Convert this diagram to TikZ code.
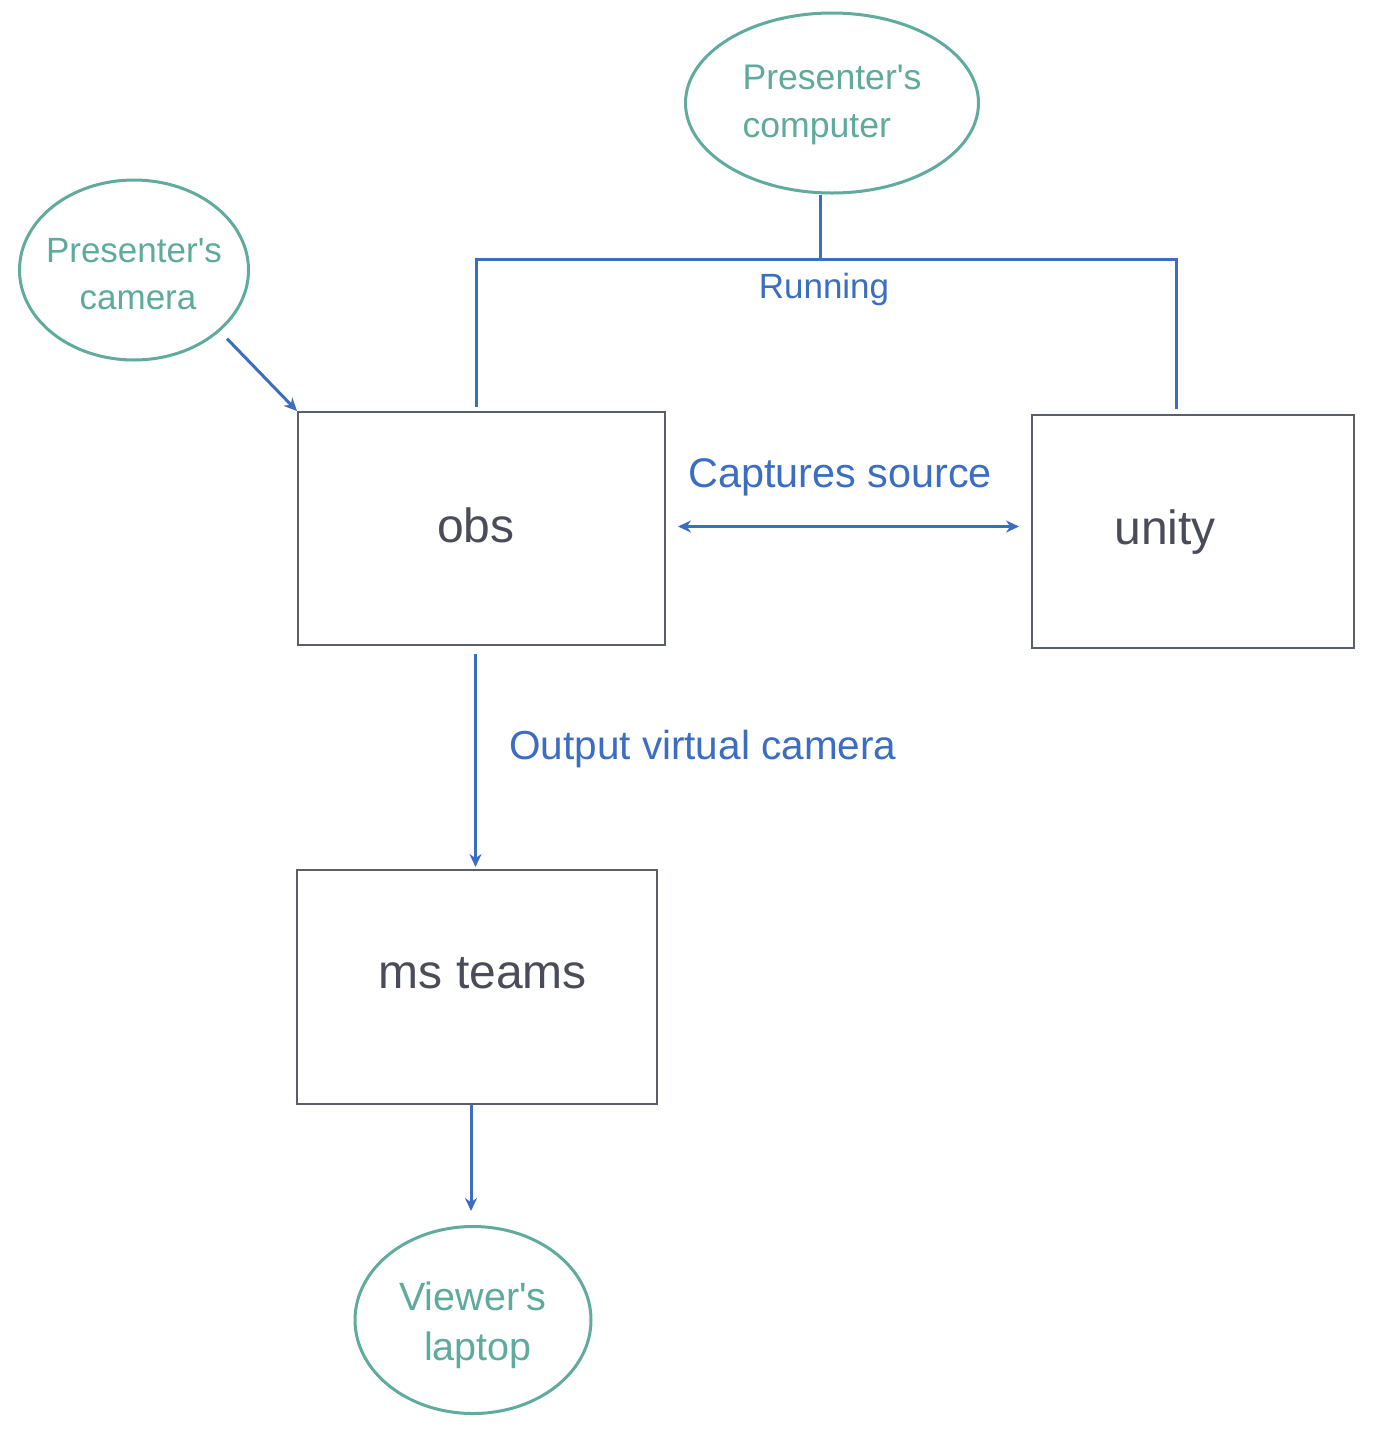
\documentclass[tikz,border=0pt]{standalone}
\usepackage{fontspec}
\setmainfont{Liberation Sans}[Ligatures=TeXOff]
\usetikzlibrary{shapes.geometric,arrows.meta}
\definecolor{tealc}{HTML}{60AB9E}
\definecolor{tealt}{HTML}{5EAA9C}
\definecolor{bluec}{HTML}{3B6DC2}
\definecolor{boxc}{HTML}{5B5F69}
\definecolor{boxt}{HTML}{4A4D57}
\begin{document}
\begin{tikzpicture}[x=1pt,y=-1pt,
  ell/.style={ellipse, draw=tealc, line width=3pt, inner sep=0pt, text=tealt},
  boxnode/.style={draw=boxc, line width=2pt, rectangle, inner sep=0pt},
  boxtext/.style={text=boxt, inner sep=0pt, font=\fontsize{48}{56}\selectfont},
  conn/.style={draw=bluec, line width=3pt},
  arr/.style={conn, -{Stealth[length=13pt,width=12pt]}},
  darr/.style={conn, {Stealth[length=13pt,width=12pt]}-{Stealth[length=13pt,width=12pt]}},
  lbl/.style={text=bluec, inner sep=0pt}
]
\useasboundingbox[fill=white] (0,0) rectangle (1382,1436);

% ellipses
\node[ell, minimum width=293pt, minimum height=180pt, align=left,
      font=\fontsize{35.6}{48}\selectfont] (pc) at (832,103)
      {\rule{0pt}{28pt}Presenter's\\computer};
\node[ell, minimum width=229pt, minimum height=180pt, align=center,
      font=\fontsize{35}{47}\selectfont] (cam) at (134,270)
      {\rule{0pt}{32pt}\makebox[0pt]{Presenter's}\\\makebox[0pt]{\hspace*{8pt}camera}};
\node[ell, minimum width=236pt, minimum height=187pt, align=center,
      font=\fontsize{39.5}{50}\selectfont] (lap) at (473,1320)
      {\rule{0pt}{40pt}\makebox[0pt]{Viewer's}\\\makebox[0pt]{\hspace*{10pt}laptop}};

% boxes
\node[boxnode, minimum width=367pt, minimum height=233pt] (obs) at (481.5,528.5) {};
\node[boxnode, minimum width=322pt, minimum height=233pt] (unity) at (1193,531.5) {};
\node[boxnode, minimum width=360pt, minimum height=234pt] (teams) at (477,987) {};
\node[boxtext] (obsT) at (476,525) {obs};
\node[boxtext] (unityT) at (1165,532) {unity};
\node[boxtext] (teamsT) at (483,973) {ms teams};

% Running connector
\coordinate (rj) at (820,259);
\draw[conn] (pc.south -| rj) -- (rj);
\draw[conn] ([shift={(-5,-4)}]obs.north) |- (rj) -| ([shift={(-17,-5)}]unity.north);
\node[lbl, font=\fontsize{35}{40}\selectfont] (runL) at (824,289) {Running};

% camera -> obs
\draw[arr] ([shift={(11,4)}]cam.south east) -- (obs.north west);

% obs <-> unity
\draw[darr] ([shift={(12,-2)}]obs.east) -- ([shift={(-12,-2)}]obs.east -| unity.west);
\node[lbl, font=\fontsize{41.4}{46}\selectfont] (capL) at (840,477) {Captures source};

% obs -> teams
\draw[arr] ([shift={(-6,8)}]obs.south) -- ([shift={(-6,-2)}]obs.south |- teams.north);
\node[lbl, font=\fontsize{40.5}{46}\selectfont, anchor=west] (outL) at (509,749) {Output virtual camera};

% teams -> laptop
\draw[arr] ([shift={(-6,0)}]teams.south) -- ([shift={(-6,-14)}]teams.south |- lap.north);
\end{tikzpicture}
\end{document}
